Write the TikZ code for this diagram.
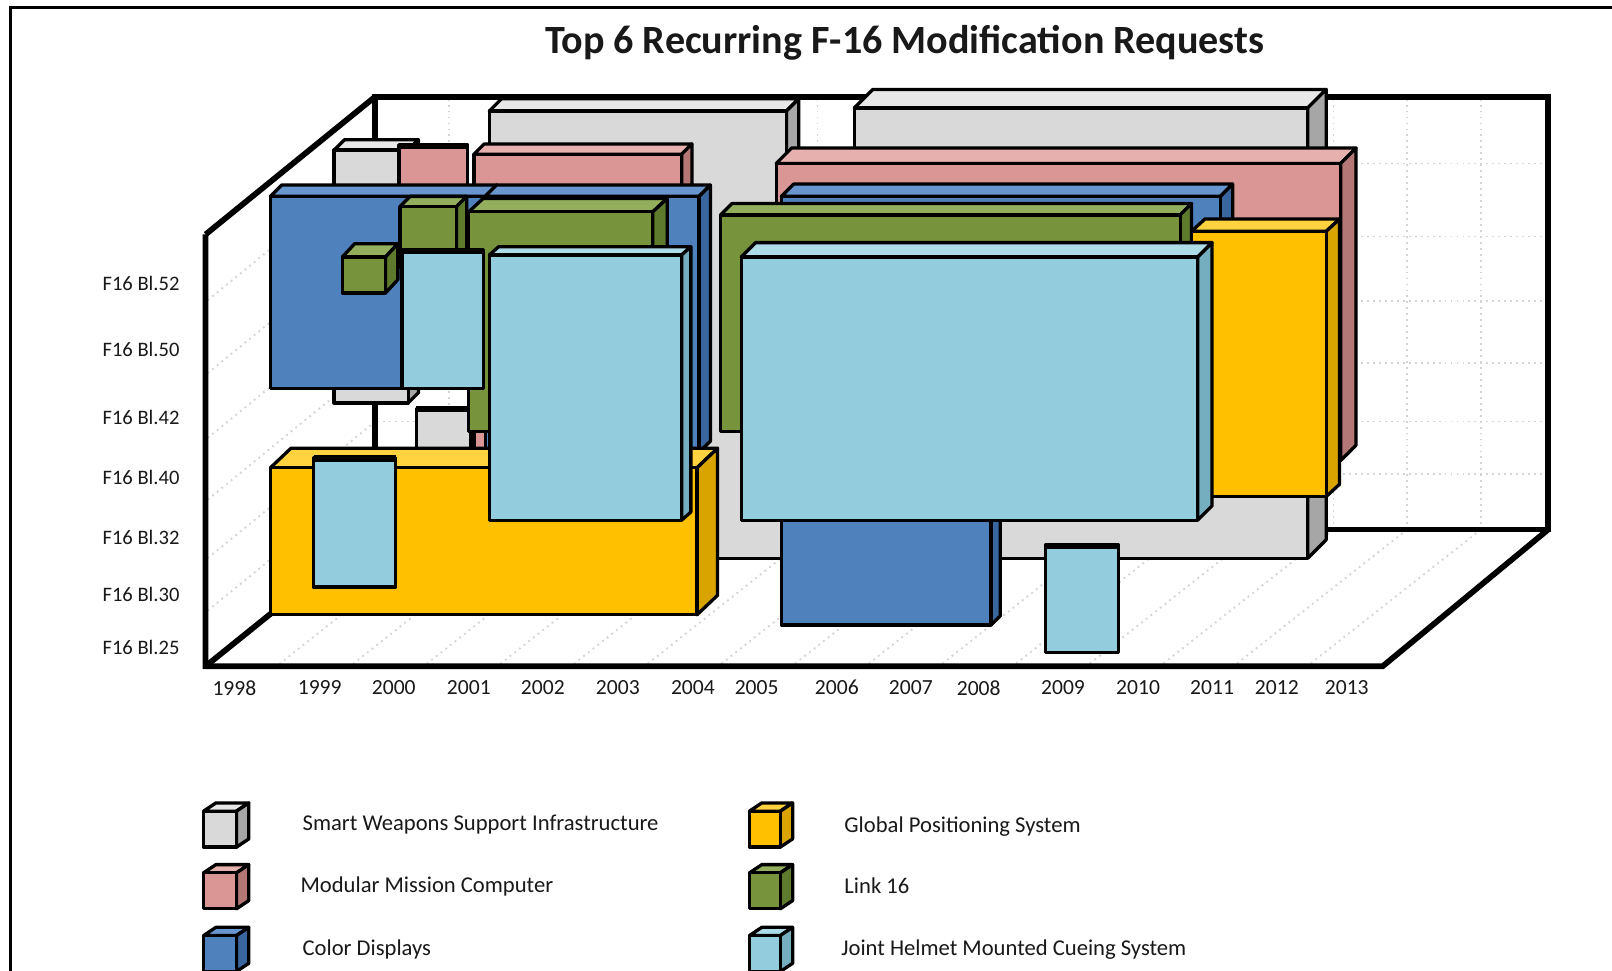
\documentclass[tikz,border=0pt]{standalone}
\usepackage{fontspec}
\setmainfont{Carlito}
\definecolor{gyF}{HTML}{D9D9D9}\definecolor{gyT}{HTML}{E8E8E8}\definecolor{gyS}{HTML}{A6A6A6}
\definecolor{pkF}{HTML}{DA9694}\definecolor{pkT}{HTML}{E6B0AE}\definecolor{pkS}{HTML}{B37875}
\definecolor{blF}{HTML}{4F81BD}\definecolor{blT}{HTML}{6A96CF}\definecolor{blS}{HTML}{3A66A0}
\definecolor{grF}{HTML}{77933C}\definecolor{grT}{HTML}{93AE5C}\definecolor{grS}{HTML}{5E7A2C}
\definecolor{ylF}{HTML}{FFC000}\definecolor{ylT}{HTML}{FFD23F}\definecolor{ylS}{HTML}{D9A400}
\definecolor{lbF}{HTML}{93CDDD}\definecolor{lbT}{HTML}{ADDBE8}\definecolor{lbS}{HTML}{74AEBF}
\definecolor{gridc}{HTML}{D4D4D4}
\tikzset{
  bx/.style={draw=black,line width=1.6pt,line join=round},
  frameln/.style={draw=black,line width=2.8pt,line join=miter},
  gridline/.style={draw=gridc,line width=0.9pt,dotted},
  ylab/.style={anchor=east,font=\fontsize{10}{12}\selectfont,text=black!90,inner sep=0pt},
  xlab/.style={anchor=center,font=\fontsize{10.5}{12}\selectfont,text=black!90,inner sep=0pt},
  legtext/.style={anchor=west,font=\fontsize{11}{13}\selectfont,text=black!90,inner sep=0pt},
  titletext/.style={font=\fontsize{19.5}{22}\selectfont\bfseries,text=black!90,inner sep=0pt}
}
% L T R B dx dy colour
\newcommand{\cuboid}[7]{%
  \filldraw[bx,fill=#7T] (#1,#2) -- ({#1+#5},{#2-#6}) -- ({#3+#5},{#2-#6}) -- (#3,#2) -- cycle;
  \filldraw[bx,fill=#7S] (#3,#2) -- ({#3+#5},{#2-#6}) -- ({#3+#5},{#4-#6}) -- (#3,#4) -- cycle;
  \filldraw[bx,fill=#7F] (#1,#2) rectangle (#3,#4);
}
\newcommand{\flatbox}[5]{%
  \filldraw[bx,fill=#5F] (#1,#2) rectangle (#3,#4);
  \draw[line width=3pt] (#1,{#2+1}) -- (#3,{#2+1});
}
\begin{document}
\begin{tikzpicture}[x=0.5pt,y=-0.5pt]
\useasboundingbox (0,0) rectangle (1568,944);
\fill[white] (0,0) rectangle (1568,944);
% outer frame
\draw[line width=1.5pt] (10,944) -- (10,7) -- (1568,7);
% title
\node[titletext] (title) at (880,42) {Top 6 Recurring F-16 Modification Requests};
% grid
\foreach \k in {1,...,15} {
  \draw[gridline] ({365+71.7*\k},96) -- ({365+71.7*\k},513);
  \draw[gridline] ({365+71.7*\k},515) -- ({200+71.6*\k},646);
}
\foreach \yy in {159,230,293,353,410,461} {
  \draw[gridline] (367,\yy) -- (1503,\yy);
  \draw[gridline] (202,{\yy+133}) -- (365,\yy);
}
% back frame lines
\draw[frameln] (365,515) -- (365,94) -- (1506,94) -- (1506,515) -- cycle;
\draw[frameln] (365,94) -- (200,228);
\draw[frameln] (365,515) -- (200,648);
% boxes, back to front
\cuboid{325}{146}{397}{392}{10}{10}{gy}
\cuboid{476}{108}{765}{543}{12}{12}{gy}
\cuboid{831}{105}{1272}{543}{18}{18}{gy}
\flatbox{405}{397}{458}{470}{gy}
\flatbox{388}{141}{455}{200}{pk}
\cuboid{461}{150}{663}{440}{10}{10}{pk}
\cuboid{755}{159}{1304}{448}{15}{15}{pk}
\cuboid{263}{191}{472}{378}{11}{11}{bl}
\cuboid{472}{191}{680}{440}{11}{11}{bl}
\cuboid{760}{191}{1187}{480}{12}{12}{bl}
\cuboid{760}{470}{964}{608}{9}{9}{bl}
\cuboid{333}{250}{375}{285}{12}{13}{gr}
\cuboid{389}{201}{444}{260}{10}{10}{gr}
\cuboid{456}{206}{635}{420}{14}{13}{gr}
\cuboid{701}{209}{1148}{420}{11}{11}{gr}
\cuboid{263}{455}{678}{598}{20}{19}{yl}
\cuboid{1159}{225}{1290}{483}{13}{12}{yl}
\flatbox{305}{445}{385}{571}{lb}
\flatbox{391}{243}{470}{378}{lb}
\cuboid{476}{248}{663}{506}{9}{8}{lb}
\cuboid{721}{250}{1165}{506}{14}{14}{lb}
\flatbox{1017}{530}{1088}{635}{lb}
% front frame lines
\draw[frameln] (200,228) -- (200,648) -- (1345,648) -- (1506,515);
% y labels
\node[ylab] (b52) at (175,276) {F16 Bl.52};
\node[ylab] (b50) at (175,340) {F16 Bl.50};
\node[ylab] (b42) at (175,406) {F16 Bl.42};
\node[ylab] (b40) at (175,464) {F16 Bl.40};
\node[ylab] (b32) at (175,523) {F16 Bl.32};
\node[ylab] (b30) at (175,578) {F16 Bl.30};
\node[ylab] (b25) at (175,630) {F16 Bl.25};
% x labels
\foreach \yr/\xx in {1998/228,1999/311,2000/383,2001/456,2002/528,2003/601,2004/674,2005/736,2006/814,2007/886,2008/952,2009/1034,2010/1107,2011/1179,2012/1242,2013/1310} {
  \node[xlab] (y\yr) at (\xx,669) {\yr};
}
% legend
\cuboid{198}{789}{230}{824}{12}{8}{gy}
\cuboid{198}{849}{230}{884}{12}{8}{pk}
\cuboid{198}{910}{230}{945}{12}{8}{bl}
\cuboid{729}{789}{759}{824}{12}{8}{yl}
\cuboid{729}{849}{759}{884}{12}{8}{gr}
\cuboid{729}{910}{759}{945}{12}{8}{lb}
\node[legtext] (l1) at (294,802) {Smart Weapons Support Infrastructure};
\node[legtext] (l2) at (292,862) {Modular Mission Computer};
\node[legtext] (l3) at (294,924) {Color Displays};
\node[legtext] (l4) at (821,804) {Global Positioning System};
\node[legtext] (l5) at (821,862) {Link 16};
\node[legtext] (l6) at (818,924) {Joint Helmet Mounted Cueing System};
\end{tikzpicture}
\end{document}
